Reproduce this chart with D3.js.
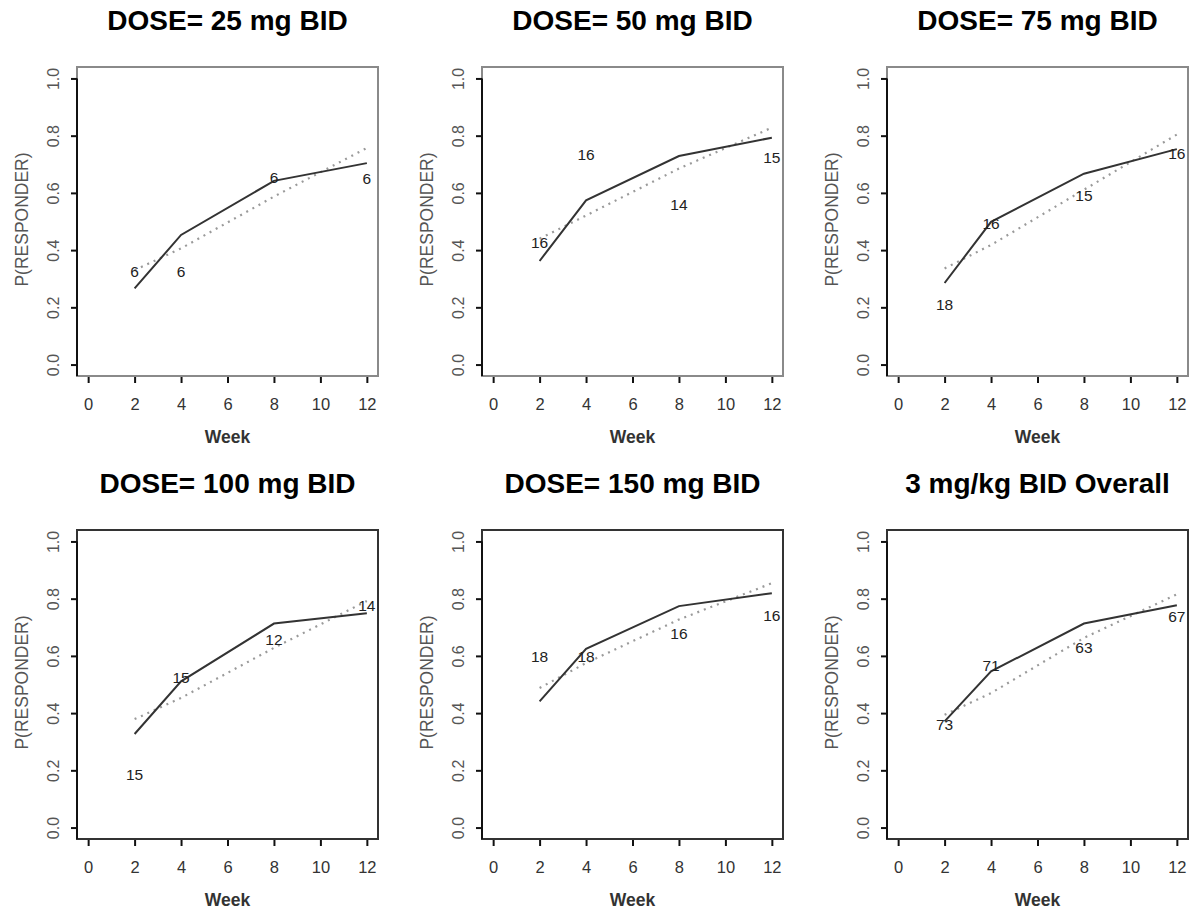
<!DOCTYPE html>
<html>
<head>
<meta charset="utf-8">
<script src="https://cdn.jsdelivr.net/npm/d3@7"></script>
<style>
  html, body { margin: 0; padding: 0; background: #fff; }
  svg { display: block; font-family: "Liberation Sans", Arial, sans-serif; }
</style>
</head>
<body>
<svg id="chart" width="1201" height="920"></svg>
<script>
// ---- data ----
const panelTitles = ["DOSE= 25 mg BID", "DOSE= 50 mg BID", "DOSE= 75 mg BID",
                     "DOSE= 100 mg BID", "DOSE= 150 mg BID", "3 mg/kg BID Overall"];
const weeks = [2, 4, 8, 12];
const observedP = [
  [0.266, 0.453, 0.642, 0.704],
  [0.362, 0.574, 0.729, 0.793],
  [0.285, 0.499, 0.667, 0.753],
  [0.327, 0.511, 0.713, 0.749],
  [0.441, 0.625, 0.774, 0.819],
  [0.371, 0.546, 0.713, 0.777]
];
const predictedP = [
  [0.330, 0.406, 0.587, 0.757],
  [0.440, 0.521, 0.685, 0.828],
  [0.336, 0.418, 0.611, 0.804],
  [0.379, 0.453, 0.628, 0.792],
  [0.488, 0.575, 0.727, 0.854],
  [0.394, 0.470, 0.663, 0.815]
];
const countN = [
  ["6", "6", "6", "6"],
  ["16", "16", "14", "15"],
  ["18", "16", "15", "16"],
  ["15", "15", "12", "14"],
  ["18", "18", "16", "16"],
  ["73", "71", "63", "67"]
];
const countPos = [
  [0.324, 0.324, 0.654, 0.650],
  [0.428, 0.735, 0.560, 0.723],
  [0.211, 0.494, 0.590, 0.737],
  [0.187, 0.523, 0.657, 0.777],
  [0.599, 0.599, 0.678, 0.742],
  [0.359, 0.567, 0.628, 0.737]
];
const xTicks = [0, 2, 4, 6, 8, 10, 12];
const yTicks = [0, 0.2, 0.4, 0.6, 0.8, 1.0];
const xLabel = "Week";
const yLabel = "P(RESPONDER)";

// ---- layout ----
const svg = d3.select("#chart");
const boxW = 301, boxH = 309;
const colLeft = [77, 482, 887];
const rowTop = [67, 530];

panelTitles.forEach((title, i) => {
  const col = i % 3, row = Math.floor(i / 3);
  const left = colLeft[col], top = rowTop[row];
  const x = d3.scaleLinear().domain([-0.48, 12.48]).range([left, left + boxW]);
  const y = d3.scaleLinear().domain([-0.04, 1.04]).range([top + boxH, top]);
  const g = svg.append("g");

  // box
  g.append("rect").attr("x", left).attr("y", top).attr("width", boxW).attr("height", boxH)
    .attr("fill", "none").attr("stroke", row === 0 ? "#8a8a8a" : "#333").attr("stroke-width", 2);

  // x axis
  const xa = g.append("g").attr("transform", `translate(0,${top + boxH + 1})`)
    .call(d3.axisBottom(x).tickValues(xTicks).tickSize(6).tickPadding(15).tickFormat(d3.format("d")));
  xa.select(".domain").remove();
  xa.selectAll(".tick line").attr("stroke", "#111").attr("stroke-width", 2);
  xa.selectAll(".tick text").attr("font-size", 16.5).attr("fill", "#333")
    .attr("font-family", "Liberation Sans, Arial, sans-serif");

  // y axis
  const ya = g.append("g").attr("transform", `translate(${left},0)`)
    .call(d3.axisLeft(y).tickValues(yTicks).tickSize(6).tickFormat(d3.format(".1f")));
  ya.select(".domain").attr("stroke", "#111").attr("stroke-width", 2).attr("d",
    `M0,${y(-0.04)}V${y(1.0)}`);
  ya.selectAll(".tick line").attr("stroke", "#111").attr("stroke-width", 2);
  ya.selectAll(".tick text")
    .attr("font-size", 16).attr("fill", "#555")
    .attr("font-family", "Liberation Sans, Arial, sans-serif")
    .attr("text-anchor", "middle").attr("dy", null).attr("x", null)
    .attr("transform", "translate(-24,0) rotate(-90)")
    .attr("dominant-baseline", "central");

  // axis labels
  g.append("text").attr("x", (x(0) + x(12)) / 2).attr("y", top + boxH + 67)
    .attr("text-anchor", "middle").attr("font-size", 17.5).attr("font-weight", "bold")
    .attr("fill", "#333").text(xLabel);
  g.append("text")
    .attr("transform", `translate(${left - 49},${top + boxH * 0.5 - 2}) rotate(-90)`)
    .attr("text-anchor", "middle").attr("font-size", 17.5).attr("fill", "#555")
    .text(yLabel);

  // title
  g.append("text").attr("x", left + boxW / 2).attr("y", top - 37)
    .attr("text-anchor", "middle").attr("font-size", 28).attr("font-weight", "bold")
    .attr("fill", "#000").text(title);

  const line = d3.line().x(d => x(d[0])).y(d => y(d[1]));

  // predicted (dotted)
  g.append("path").datum(weeks.map((w, k) => [w, predictedP[i][k]]))
    .attr("d", line).attr("fill", "none").attr("stroke", "#9a9a9a")
    .attr("stroke-width", 2.2).attr("stroke-dasharray", "2,5");

  // observed (solid)
  g.append("path").datum(weeks.map((w, k) => [w, observedP[i][k]]))
    .attr("d", line).attr("fill", "none").attr("stroke", "#333")
    .attr("stroke-width", 2);

  // counts
  g.selectAll("text.n").data(weeks).enter().append("text")
    .attr("class", "n")
    .attr("x", w => x(w)).attr("y", (w, k) => y(countPos[i][k]))
    .attr("dominant-baseline", "central")
    .attr("text-anchor", "middle").attr("font-size", 15.5).attr("fill", "#222")
    .text((w, k) => countN[i][k]);
});
</script>
</body>
</html>
